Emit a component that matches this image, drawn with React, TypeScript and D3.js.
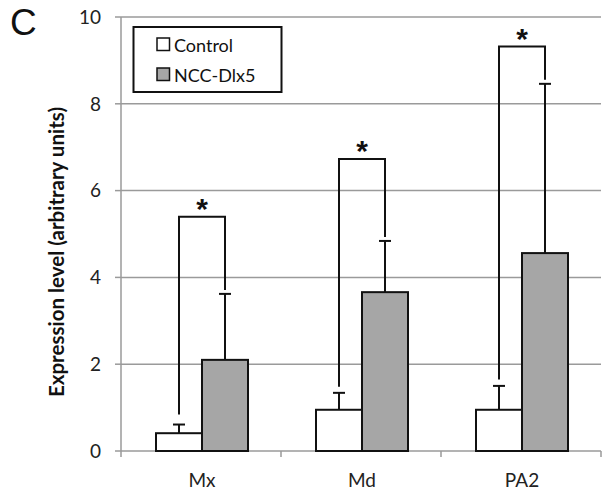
import React from "react";
import * as d3 from "d3";

const categories = ["Mx", "Md", "PA2"];
const seriesNames = ["Control", "NCC-Dlx5"];
const controlValues = [0.41, 0.95, 0.95];
const controlErrors = [0.2, 0.39, 0.55];
const dlx5Values = [2.1, 3.66, 4.56];
const dlx5Errors = [1.52, 1.18, 3.9];
const bracketTops = [5.4, 6.73, 9.32];
const bracketLeftEnds = [0.84, 1.48, 1.65];
const yTicks = [0, 2, 4, 6, 8, 10];

const W = 602;
const H = 495;
const FONT = "Lato, 'Liberation Sans', Arial, sans-serif";

export default function App() {
  const x0 = d3.scaleBand<string>().domain(categories).range([121, 601]).paddingInner(0).paddingOuter(0);
  const y = d3.scaleLinear().domain([0, 10]).range([451, 17]);
  const barW = 46;
  const fills = ["#ffffff", "#a6a6a6"];

  const series = [
    { vals: controlValues, errs: controlErrors },
    { vals: dlx5Values, errs: dlx5Errors },
  ];

  const center = (c: string) => (x0(c) as number) + x0.bandwidth() / 2 + 1;
  const barX = (c: string, s: number) => center(c) - barW + s * barW;

  return (
    <svg width={W} height={H} style={{ position: "absolute", left: 0, top: 0, background: "#fff" }}>
      {yTicks.map((t) => (
        <g key={t}>
          {t > 0 && <line x1={121} x2={601} y1={y(t)} y2={y(t)} stroke="#9a9a9a" strokeWidth={1.5} />}
          <line x1={115} x2={121} y1={y(t)} y2={y(t)} stroke="#9a9a9a" strokeWidth={1.5} />
          <text x={101} y={y(t)} dy="0.36em" textAnchor="end" fontFamily={FONT} fontSize={19} fill="#222">
            {t}
          </text>
        </g>
      ))}
      <line x1={121} x2={121} y1={y(10)} y2={y(0)} stroke="#9a9a9a" strokeWidth={1.5} />
      <line x1={121} x2={601} y1={y(0)} y2={y(0)} stroke="#9a9a9a" strokeWidth={1.5} />
      {[...categories.map((c) => x0(c) as number), 601].map((xv, i) => (
        <line key={i} x1={xv} x2={xv} y1={y(0)} y2={y(0) + 6} stroke="#9a9a9a" strokeWidth={1.5} />
      ))}
      {categories.map((c) => (
        <text key={c} x={center(c)} y={487} textAnchor="middle" fontFamily={FONT} fontSize={19} fill="#222">
          {c}
        </text>
      ))}
      {categories.map((c, i) =>
        series.map((s, si) => {
          const cx = barX(c, si) + barW / 2;
          const top = y(s.vals[i] + s.errs[i]);
          return (
            <g key={c + si}>
              <line x1={cx} x2={cx} y1={y(s.vals[i])} y2={top} stroke="#111" strokeWidth={2} />
              <line x1={cx - 6} x2={cx + 6} y1={top} y2={top} stroke="#111" strokeWidth={2} />
            </g>
          );
        })
      )}
      {categories.map((c, i) =>
        series.map((s, si) => (
          <rect
            key={c + "b" + si}
            x={barX(c, si)}
            y={y(s.vals[i])}
            width={barW}
            height={y(0) - y(s.vals[i])}
            fill={fills[si]}
            stroke="#111"
            strokeWidth={2}
          />
        ))
      )}
      {categories.map((c, i) => {
        const lx = barX(c, 0) + barW / 2;
        const rx = barX(c, 1) + barW / 2;
        const yt = y(bracketTops[i]);
        const rEnd = y(dlx5Values[i] + dlx5Errors[i]) - 4;
        return (
          <g key={c + "sig"}>
            <path
              d={`M${lx},${y(bracketLeftEnds[i])}V${yt}H${rx}V${rEnd}`}
              fill="none"
              stroke="#111"
              strokeWidth={2}
            />
            <text x={(lx + rx) / 2} y={yt + 2} textAnchor="middle" fontFamily="'Liberation Sans', Arial, sans-serif" fontSize={30} fontWeight="bold" fill="#111">
              *
            </text>
          </g>
        );
      })}
      <text
        transform={`translate(64,${(y(0) + y(10)) / 2 + 18}) rotate(-90)`}
        textAnchor="middle"
        fontFamily={FONT}
        fontSize={20.5}
        fontWeight="bold"
        fill="#111"
      >
        Expression level (arbitrary units)
      </text>
      <text x={10} y={35} fontFamily="'Liberation Sans', Arial, sans-serif" fontSize={37} fill="#111">
        C
      </text>
      <rect x={133.5} y={27} width={148} height={65} fill="#fff" stroke="#111" strokeWidth={2} />
      {seriesNames.map((n, i) => (
        <g key={n}>
          <rect x={157} y={38 + i * 30} width={12.5} height={12.5} fill={fills[i]} stroke="#111" strokeWidth={1.5} />
          <text x={174} y={52 + i * 30} fontFamily={FONT} fontSize={18} fill="#111">
            {n}
          </text>
        </g>
      ))}
    </svg>
  );
}
